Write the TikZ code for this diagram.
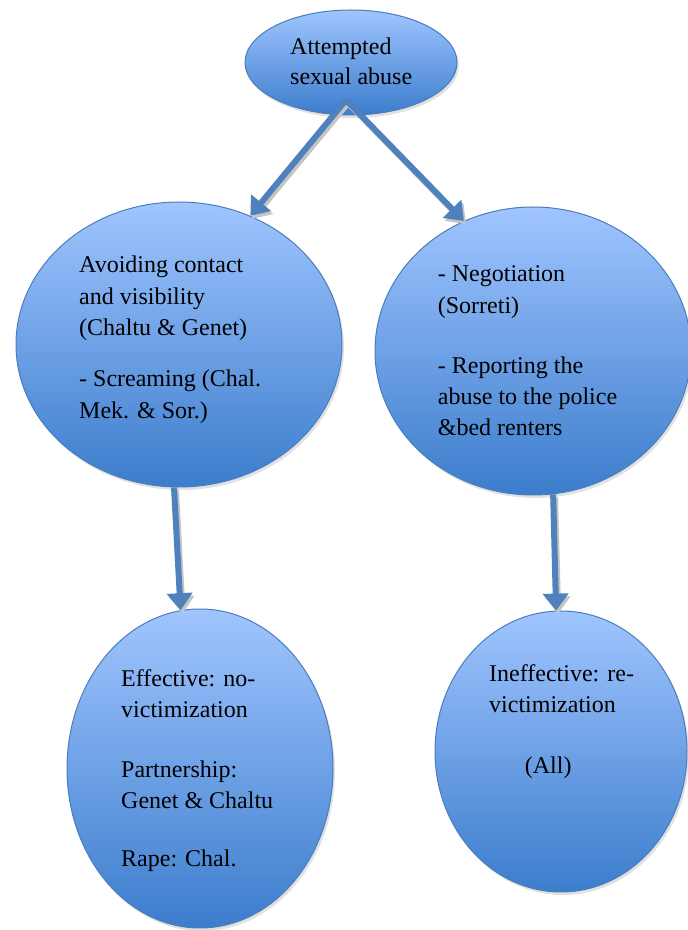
\documentclass[tikz,border=0pt]{standalone}
\usepackage{fontspec}
\setmainfont{Liberation Serif}
\usetikzlibrary{arrows.meta,shapes.geometric,shadows,calc}

\definecolor{bubbletop}{RGB}{160,197,255}
\definecolor{bubblebot}{RGB}{60,125,204}
\definecolor{bubbleline}{RGB}{74,126,187}
\definecolor{arrowblue}{RGB}{79,129,189}
\definecolor{shadegray}{RGB}{196,196,196}

\begin{document}
\begin{tikzpicture}[x=1pt,y=1pt,
  bubble/.style={ellipse, draw=bubbleline, line width=1pt,
    top color=bubbletop, bottom color=bubblebot, inner sep=0pt,
    drop shadow={shadow xshift=2pt, shadow yshift=-3pt, opacity=0.5, fill=shadegray}},
  % multi-line labels are placed by the baseline of their last line
  label/.style={anchor=base west, align=left, inner sep=0pt},
  link/.style={draw=arrowblue, line width=6pt,
    -{Triangle[width=25pt,length=17pt]}},
  linkshade/.style={link, draw=shadegray, transform canvas={shift={(2pt,-3pt)}}}
]
\useasboundingbox (0,0) rectangle (688,930);
\clip (0,0) rectangle (688,930);

% ellipses
\node[bubble, minimum width=212pt, minimum height=105pt] (attempt) at (351,867.5) {};
\node[bubble, minimum width=326pt, minimum height=285pt] (avoid) at (179,585.5) {};
\node[bubble, minimum width=316pt, minimum height=288pt] (report) at (533,579) {};
\node[bubble, minimum width=266pt, minimum height=319pt] (effective) at (200,161.5) {};
\node[bubble, minimum width=252pt, minimum height=281pt] (ineffective) at (561,178.5) {};

% texts
\node[label, font=\fontsize{24}{29.5}\selectfont] (tattempt) at (290,845.7)
  {Attempted\\sexual abuse};
\node[label, font=\fontsize{24}{31.5}\selectfont] (tavoid) at (79,511.7)
  {Avoiding contact\\and visibility\\(Chaltu \& Genet)\\[19.5pt]- Screaming (Chal.\\Mek. \& Sor.)};
\node[label, font=\fontsize{24}{31.3}\selectfont] (treport) at (437.7,494.3)
  {- Negotiation\\(Sorreti)\\[28.7pt]- Reporting the\\abuse to the police\\\&bed renters};
\node[label, font=\fontsize{24}{31}\selectfont] (teffective) at (121,63.3)
  {Effective: no-\\victimization\\[29pt]Partnership:\\Genet \& Chaltu\\[27.4pt]Rape: Chal.};
\node[label, font=\fontsize{24}{31}\selectfont] (tineffective) at (489,156.7)
  {Ineffective: re-\\victimization\\[29.6pt]\hspace*{35.7pt}(All)};

% connectors
\coordinate (fork) at ($(attempt.center)+(-5,-37.5)$);
\draw[linkshade] (fork) -- (avoid.61);
\draw[linkshade] (fork) -- (report.118);
\draw[linkshade] (avoid.268) -- (effective.97);
\draw[linkshade] (report.278) -- (ineffective.92);
\draw[link] (fork) -- (avoid.61);
\draw[link] (fork) -- (report.118);
\draw[link] (avoid.268) -- (effective.97);
\draw[link] (report.278) -- (ineffective.92);
\end{tikzpicture}
\end{document}
